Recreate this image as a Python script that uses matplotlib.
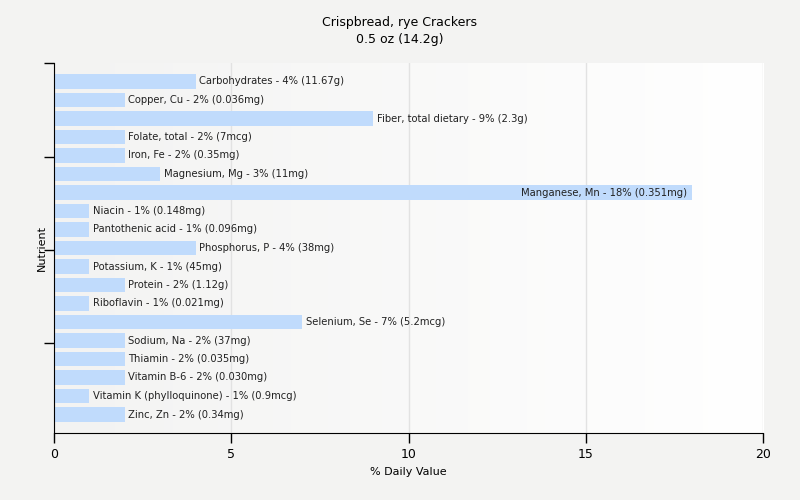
import matplotlib
matplotlib.use("Agg")
import matplotlib.pyplot as plt
import numpy as np
from matplotlib.colors import LinearSegmentedColormap

title_lines = ["Crispbread, rye Crackers", "0.5 oz (14.2g)"]
nutrients = ["Carbohydrates", "Copper, Cu", "Fiber, total dietary", "Folate, total", "Iron, Fe",
             "Magnesium, Mg", "Manganese, Mn", "Niacin", "Pantothenic acid", "Phosphorus, P",
             "Potassium, K", "Protein", "Riboflavin", "Selenium, Se", "Sodium, Na", "Thiamin",
             "Vitamin B-6", "Vitamin K (phylloquinone)", "Zinc, Zn"]
values = [4, 2, 9, 2, 2, 3, 18, 1, 1, 4, 1, 2, 1, 7, 2, 2, 2, 1, 2]
amounts = ["11.67g", "0.036mg", "2.3g", "7mcg", "0.35mg", "11mg", "0.351mg", "0.148mg", "0.096mg",
           "38mg", "45mg", "1.12g", "0.021mg", "5.2mcg", "37mg", "0.035mg", "0.030mg", "0.9mcg", "0.34mg"]
xticks = [0, 5, 10, 15, 20]

plt.rcParams['font.family'] = ['DejaVu Sans']
fig = plt.figure(figsize=(8, 5), dpi=100, facecolor="#f3f3f2")
ax = fig.add_axes([0.0675, 0.134, 0.8865, 0.74])

n = len(nutrients)
ylo, yhi = -1, n
grad = np.linspace(0, 1, 256).reshape(1, -1)
cmap = LinearSegmentedColormap.from_list("bg", ["#f3f3f2", "#ffffff"])
ax.imshow(grad, extent=[0, 20, yhi, ylo], aspect="auto", cmap=cmap, zorder=0)

y = np.arange(n)
ax.barh(y, values, height=0.8, color="#c0dbfc", zorder=2)
for yi, v, nm, a in zip(y, values, nutrients, amounts):
    label = f"{nm} - {v}% ({a})"
    if v >= 15:
        ax.text(v - 0.15, yi, label, ha="right", va="center", fontsize=7.2, color="#222222", zorder=3)
    else:
        ax.text(v + 0.1, yi, label, ha="left", va="center", fontsize=7.2, color="#222222", zorder=3)

ax.set_xlim(0, 20)
ax.set_ylim(yhi, ylo)
ax.set_xticks(xticks)
ax.set_xticklabels([str(t) for t in xticks], fontsize=9)
ax.set_yticks([-1, 4.08, 9.1, 14.14])
ax.set_yticklabels([])
ax.tick_params(axis="y", length=7, width=1, color="black")
ax.tick_params(axis="x", length=7, width=1, color="black")
ax.grid(axis="x", color="#e2e2e2", linewidth=1, zorder=1)
ax.set_axisbelow(True)
for s in ["top", "right"]:
    ax.spines[s].set_visible(False)

fig.text(0.5106, 0.056, "% Daily Value", ha="center", va="center", fontsize=8)
fig.text(42 / 800, 0.504, "Nutrient", ha="center", va="center", rotation=90, fontsize=8)
fig.text(0.5, 0.955, title_lines[0], ha="center", va="center", fontsize=9)
fig.text(0.5, 0.92, title_lines[1], ha="center", va="center", fontsize=9)

fig.savefig("out.png", dpi=100, facecolor=fig.get_facecolor())
